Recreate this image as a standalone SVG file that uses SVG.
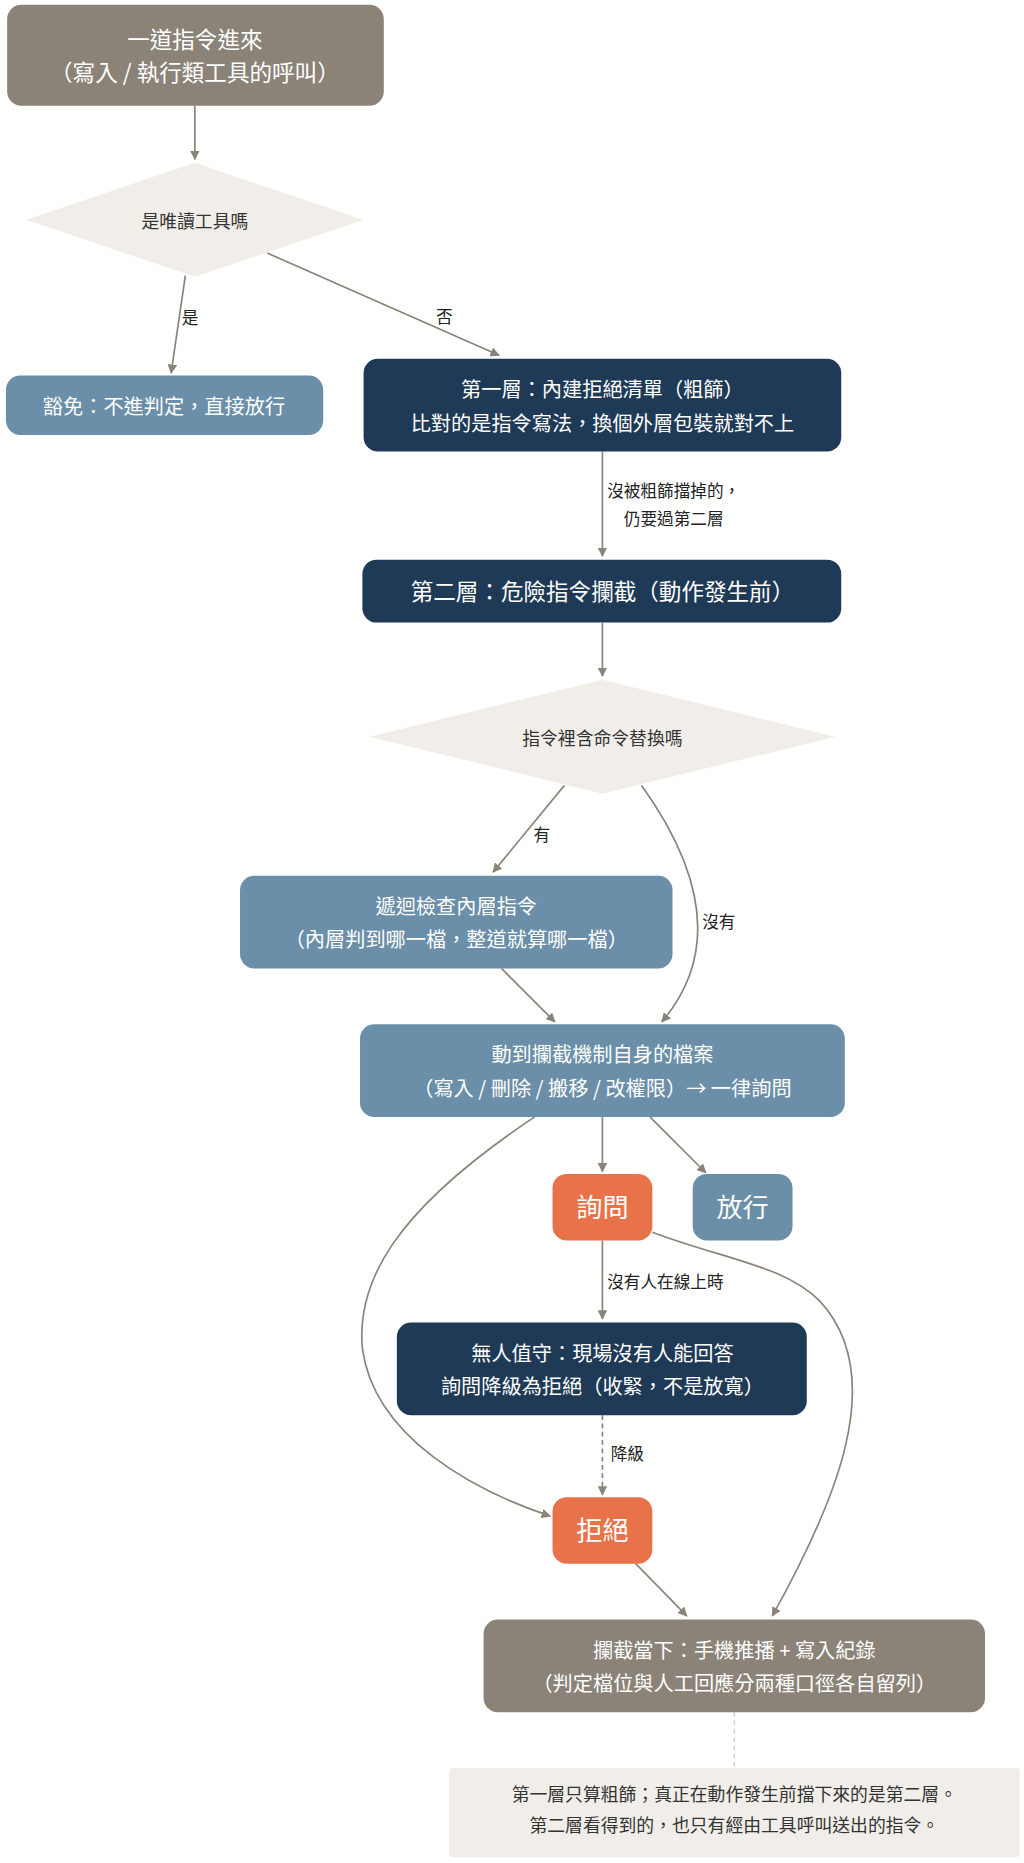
<svg xmlns="http://www.w3.org/2000/svg" width="1024" height="1863" viewBox="0 0 1024 1863">
<defs>
<marker id="ah" viewBox="0 0 10 10" refX="9" refY="5" markerWidth="8" markerHeight="8" orient="auto-start-reverse" markerUnits="userSpaceOnUse"><path d="M0,0 L10,5 L0,10 z" fill="#8b8378"/></marker>
<style>
text{font-family:"Noto Sans CJK TC","Noto Sans CJK SC",sans-serif;text-anchor:middle;dominant-baseline:central}
.w{fill:#fff;font-size:17px}
.d{fill:#333;font-size:15px}
.l{fill:#222;font-size:14px}
.e{stroke:#8b8378;stroke-width:1.4;fill:none;marker-end:url(#ah)}
</style>
</defs>
<rect width="1024" height="1863" fill="#fff"/>
<g transform="scale(1.1882)">
<g id="connectors">
<path class="e" d="M164,89 L164,134"/>
<path class="e" d="M156,232 L144,314"/>
<path class="e" d="M225,213 L420,299"/>
<path class="e" d="M507,380 L507,468"/>
<path class="e" d="M507,524 L507,569"/>
<path class="e" d="M475,661 L415,734"/>
<path class="e" d="M540,661 Q625,780 557,860"/>
<path class="e" d="M422,815 L467,860"/>
<path class="e" d="M507,940 L507,986"/>
<path class="e" d="M547,940 L594,987"/>
<path class="e" d="M450,940 C330,1020 300,1080 305,1135 C315,1210 400,1255 463,1276"/>
<path class="e" d="M507,1044 L507,1110"/>
<path class="e" d="M549,1037 C610,1060 660,1065 690,1095 C750,1160 700,1270 650,1360"/>
<path class="e" d="M507,1191 L507,1258" stroke-dasharray="4,3"/>
<path class="e" d="M535,1316 L578,1360"/>
<path d="M618,1441 L618,1488" stroke="#c8d0d8" stroke-width="1.2" stroke-dasharray="4,3" fill="none"/>
<text class="l" x="160" y="267">是</text>
<text class="l" x="374" y="266">否</text>
<text class="l" x="567" y="412">沒被粗篩擋掉的，</text>
<text class="l" x="567" y="436">仍要過第二層</text>
<text class="l" x="456" y="702">有</text>
<text class="l" x="605" y="775">沒有</text>
<text class="l" x="560" y="1078">沒有人在線上時</text>
<text class="l" x="528" y="1223">降級</text>
</g>
<g id="start"><rect x="6" y="4" width="317" height="85" rx="12" fill="#8b8378"/><text class="w" x="164" y="32" style="font-size:19px">一道指令進來</text><text class="w" x="164" y="60" style="font-size:19px">（寫入 / 執行類工具的呼叫）</text></g>
<g id="q1"><polygon points="164,137 306,185 164,233 22,185" fill="#f1eee9"/><text class="d" x="164" y="185">是唯讀工具嗎</text></g>
<g id="exempt"><rect x="5" y="316" width="267" height="50" rx="12" fill="#6b8fa8"/><text class="w" x="138" y="341">豁免：不進判定，直接放行</text></g>
<g id="layer1"><rect x="306" y="302" width="402" height="78" rx="12" fill="#1f3a56"/><text class="w" x="507" y="327">第一層：內建拒絕清單（粗篩）</text><text class="w" x="507" y="356">比對的是指令寫法，換個外層包裝就對不上</text></g>
<g id="layer2"><rect x="305" y="471" width="403" height="53" rx="12" fill="#1f3a56"/><text class="w" x="507" y="497" style="font-size:19px">第二層：危險指令攔截（動作發生前）</text></g>
<g id="q2"><polygon points="507,572 703,620 507,668 311,620" fill="#f1eee9"/><text class="d" x="507" y="620">指令裡含命令替換嗎</text></g>
<g id="recurse"><rect x="202" y="737" width="364" height="78" rx="12" fill="#6b8fa8"/><text class="w" x="384" y="762">遞迴檢查內層指令</text><text class="w" x="384" y="790">（內層判到哪一檔，整道就算哪一檔）</text></g>
<g id="selffile"><rect x="303" y="862" width="408" height="78" rx="12" fill="#6b8fa8"/><text class="w" x="507" y="887">動到攔截機制自身的檔案</text><text class="w" x="507" y="915">（寫入 / 刪除 / 搬移 / 改權限）→ 一律詢問</text></g>
<g id="ask"><rect x="465" y="988" width="84" height="56" rx="12" fill="#e8734a"/><text class="w" x="507" y="1015" style="font-size:22px">詢問</text></g>
<g id="allow"><rect x="583" y="988" width="84" height="56" rx="12" fill="#6b8fa8"/><text class="w" x="625" y="1015" style="font-size:22px">放行</text></g>
<g id="unattended"><rect x="334" y="1113" width="345" height="78" rx="12" fill="#1f3a56"/><text class="w" x="507" y="1138">無人值守：現場沒有人能回答</text><text class="w" x="507" y="1166">詢問降級為拒絕（收緊，不是放寬）</text></g>
<g id="deny"><rect x="465" y="1260" width="84" height="56" rx="12" fill="#e8734a"/><text class="w" x="507" y="1287" style="font-size:22px">拒絕</text></g>
<g id="notify"><rect x="407" y="1363" width="422" height="78" rx="12" fill="#8b8378"/><text class="w" x="618" y="1388">攔截當下：手機推播 + 寫入紀錄</text><text class="w" x="618" y="1416">（判定檔位與人工回應分兩種口徑各自留列）</text></g>
<g id="note"><rect x="378" y="1488" width="480" height="75" rx="3" fill="#f1eee9"/><text class="d" x="618" y="1509">第一層只算粗篩；真正在動作發生前擋下來的是第二層。</text><text class="d" x="618" y="1535">第二層看得到的，也只有經由工具呼叫送出的指令。</text></g>
</g>
</svg>
